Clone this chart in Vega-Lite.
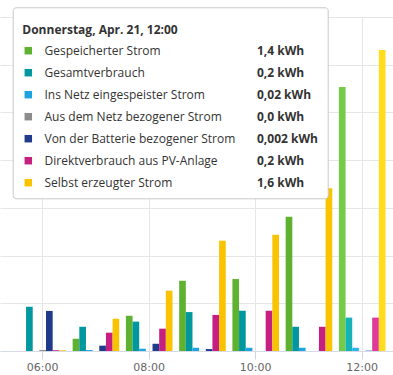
{
  "$schema": "https://vega.github.io/schema/vega-lite/v6.json",
  "width": 393,
  "height": 334,
  "autosize": {"type": "none"},
  "padding": {"top": 17, "bottom": 24, "left": 0, "right": 0},
  "background": "#ffffff",
  "config": {"view": {"stroke": null}},
  "data": {
    "values": [
      {"time": "06:00", "series": "Gesamtverbrauch", "value": 0.232},
      {"time": "06:00", "series": "Aus dem Netz bezogener Strom", "value": 0.005},
      {"time": "06:00", "series": "Von der Batterie bezogener Strom", "value": 0.21},
      {"time": "06:00", "series": "Direktverbrauch aus PV-Anlage", "value": 0.004},
      {"time": "06:00", "series": "Selbst erzeugter Strom", "value": 0.004},
      {"time": "07:00", "series": "Gespeicherter Strom", "value": 0.064},
      {"time": "07:00", "series": "Gesamtverbrauch", "value": 0.127},
      {"time": "07:00", "series": "Ins Netz eingespeister Strom", "value": 0.005},
      {"time": "07:00", "series": "Von der Batterie bezogener Strom", "value": 0.028},
      {"time": "07:00", "series": "Direktverbrauch aus PV-Anlage", "value": 0.096},
      {"time": "07:00", "series": "Selbst erzeugter Strom", "value": 0.169},
      {"time": "08:00", "series": "Gespeicherter Strom", "value": 0.185},
      {"time": "08:00", "series": "Gesamtverbrauch", "value": 0.154},
      {"time": "08:00", "series": "Ins Netz eingespeister Strom", "value": 0.012},
      {"time": "08:00", "series": "Von der Batterie bezogener Strom", "value": 0.038},
      {"time": "08:00", "series": "Direktverbrauch aus PV-Anlage", "value": 0.117},
      {"time": "08:00", "series": "Selbst erzeugter Strom", "value": 0.316},
      {"time": "09:00", "series": "Gespeicherter Strom", "value": 0.368},
      {"time": "09:00", "series": "Gesamtverbrauch", "value": 0.204},
      {"time": "09:00", "series": "Ins Netz eingespeister Strom", "value": 0.017},
      {"time": "09:00", "series": "Von der Batterie bezogener Strom", "value": 0.01},
      {"time": "09:00", "series": "Direktverbrauch aus PV-Anlage", "value": 0.189},
      {"time": "09:00", "series": "Selbst erzeugter Strom", "value": 0.578},
      {"time": "10:00", "series": "Gespeicherter Strom", "value": 0.377},
      {"time": "10:00", "series": "Gesamtverbrauch", "value": 0.211},
      {"time": "10:00", "series": "Ins Netz eingespeister Strom", "value": 0.017},
      {"time": "10:00", "series": "Direktverbrauch aus PV-Anlage", "value": 0.211},
      {"time": "10:00", "series": "Selbst erzeugter Strom", "value": 0.609},
      {"time": "11:00", "series": "Gespeicherter Strom", "value": 0.704},
      {"time": "11:00", "series": "Gesamtverbrauch", "value": 0.127},
      {"time": "11:00", "series": "Ins Netz eingespeister Strom", "value": 0.017},
      {"time": "11:00", "series": "Direktverbrauch aus PV-Anlage", "value": 0.127},
      {"time": "11:00", "series": "Selbst erzeugter Strom", "value": 0.853},
      {"time": "12:00", "series": "Gespeicherter Strom", "value": 1.383},
      {"time": "12:00", "series": "Gesamtverbrauch", "value": 0.175},
      {"time": "12:00", "series": "Ins Netz eingespeister Strom", "value": 0.017},
      {"time": "12:00", "series": "Aus dem Netz bezogener Strom", "value": 0},
      {"time": "12:00", "series": "Von der Batterie bezogener Strom", "value": 0.002},
      {"time": "12:00", "series": "Direktverbrauch aus PV-Anlage", "value": 0.175},
      {"time": "12:00", "series": "Selbst erzeugter Strom", "value": 1.577}
    ]
  },
  "encoding": {
    "x": {
      "field": "time",
      "type": "ordinal",
      "scale": {
        "domain": ["06:00", "07:00", "08:00", "09:00", "10:00", "11:00", "12:00"],
        "paddingInner": 0,
        "paddingOuter": 0.19,
        "align": 0.794,
        "round": false
      },
      "axis": {
        "values": ["06:00", "08:00", "10:00", "12:00"],
        "title": null,
        "grid": true,
        "gridColor": "#e6e6e6",
        "bandPosition": 0.5,
        "domainColor": "#d5dbe6",
        "tickColor": "#ccd6eb",
        "tickSize": 8,
        "labelPadding": 2,
        "labelAngle": 0,
        "labelFont": "DejaVu Sans",
        "labelFontSize": 11,
        "labelColor": "#666666"
      }
    },
    "xOffset": {
      "field": "series",
      "type": "nominal",
      "scale": {
        "domain": ["Gespeicherter Strom", "Gesamtverbrauch", "Ins Netz eingespeister Strom", "Aus dem Netz bezogener Strom", "Von der Batterie bezogener Strom", "Direktverbrauch aus PV-Anlage", "Selbst erzeugter Strom"],
        "paddingInner": 0,
        "paddingOuter": 0.5
      }
    },
    "y": {
      "field": "value",
      "type": "quantitative",
      "scale": {"domain": [0, 1.75], "nice": false, "zero": true},
      "axis": {
        "values": [0, 0.25, 0.5, 0.75, 1, 1.25, 1.5, 1.75],
        "title": null,
        "labels": false,
        "ticks": false,
        "domain": false,
        "grid": true,
        "gridColor": "#e6e6e6"
      }
    }
  },
  "layer": [
    {
      "transform": [{"filter": "datum.time !== '12:00'"}],
      "mark": {"type": "bar"},
      "encoding": {
        "color": {
          "field": "series",
          "type": "nominal",
          "scale": {
            "domain": ["Gespeicherter Strom", "Gesamtverbrauch", "Ins Netz eingespeister Strom", "Aus dem Netz bezogener Strom", "Von der Batterie bezogener Strom", "Direktverbrauch aus PV-Anlage", "Selbst erzeugter Strom"],
            "range": ["#5fb230", "#00989e", "#1ea4df", "#8c8c8c", "#223a8b", "#c61f82", "#f9c300"]
          },
          "legend": {
            "orient": "none",
            "legendX": 22.3,
            "legendY": 27.7,
            "title": null,
            "symbolType": "square",
            "symbolSize": 56,
            "symbolStrokeWidth": 0,
            "labelFont": "Open Sans",
            "labelFontSize": 12,
            "labelColor": "#333333",
            "labelOffset": 10.2,
            "labelLimit": 300,
            "rowPadding": 10,
            "padding": 0,
            "zindex": 2
          }
        }
      }
    },
    {
      "transform": [{"filter": "datum.time === '12:00'"}],
      "mark": {"type": "bar"},
      "encoding": {
        "color": {
          "field": "series",
          "type": "nominal",
          "scale": {
            "domain": ["Gespeicherter Strom", "Gesamtverbrauch", "Ins Netz eingespeister Strom", "Aus dem Netz bezogener Strom", "Von der Batterie bezogener Strom", "Direktverbrauch aus PV-Anlage", "Selbst erzeugter Strom"],
            "range": ["#74cb45", "#16b2b8", "#2bb5f0", "#a0a0a0", "#35509f", "#e0399b", "#ffdc1c"]
          },
          "legend": {
            "orient": "none",
            "legendX": 12.7,
            "legendY": -9.7,
            "title": "Donnerstag, Apr. 21, 12:00",
            "titleFont": "Open Sans",
            "titleFontSize": 12,
            "titleFontWeight": "bold",
            "titleColor": "#333333",
            "titlePadding": 15.8,
            "padding": 9.6,
            "fillColor": "#ffffff",
            "strokeColor": "#c8c8c8",
            "cornerRadius": 3,
            "symbolType": "circle",
            "symbolSize": 1,
            "symbolOpacity": 0,
            "symbolStrokeWidth": 0,
            "labelOffset": 222.7,
            "labelFont": "Open Sans",
            "labelFontSize": 12,
            "labelFontWeight": "bold",
            "labelColor": "#333333",
            "labelLimit": 300,
            "labelExpr": "{'Gespeicherter Strom': '1,4 kWh', 'Gesamtverbrauch': '0,2 kWh', 'Ins Netz eingespeister Strom': '0,02 kWh', 'Aus dem Netz bezogener Strom': '0,0 kWh', 'Von der Batterie bezogener Strom': '0,002 kWh', 'Direktverbrauch aus PV-Anlage': '0,2 kWh', 'Selbst erzeugter Strom': '1,6 kWh'}[datum.label] + '\u00a0\u00a0\u00a0'",
            "rowPadding": 10,
            "zindex": 1,
            "encode": {"title": {"update": {"dy": {"value": 8.3}}}}
          }
        }
      }
    }
  ],
  "resolve": {"scale": {"color": "independent"}}
}
